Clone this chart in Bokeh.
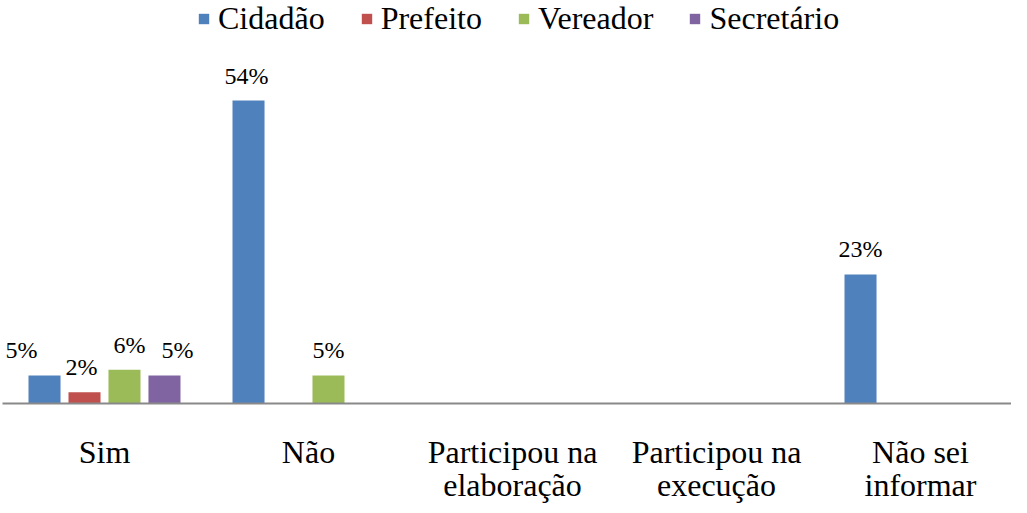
from bokeh.plotting import figure
from bokeh.models import Range1d, ColumnDataSource, Legend, LegendItem, FixedTicker, LabelSet
from bokeh.embed import file_html
from bokeh.resources import INLINE

categories = ["Sim", "Não", "Participou na\nelaboração", "Participou na\nexecução", "Não sei\ninformar"]
series_names = ["Cidadão", "Prefeito", "Vereador", "Secretário"]
cidadao = [5, 54, 0, 0, 23]
prefeito = [2, 0, 0, 0, 0]
vereador = [6, 5, 0, 0, 0]
secretario = [5, 0, 0, 0, 0]
series_values = [cidadao, prefeito, vereador, secretario]
colors = ["#4F81BD", "#C0504D", "#9BBB59", "#8064A2"]
offsets = [-0.294, -0.098, 0.098, 0.294]
bar_width = 0.157
# small horizontal pixel nudges of data labels, per series per category
label_nudge = [[-23, -2, 0, 0, 0], [-3, 0, 0, 0, 0], [5, 0, 0, 0, 0], [13, 0, 0, 0, 0]]

FONT = "Times New Roman"
W, H = 1011, 505
left_border = 2
frame_w = W - left_border
cat_px = 204.0
frame_h = 403
px_per_unit = 5.611

p = figure(width=W, height=H, output_backend="svg", toolbar_location=None,
           x_range=Range1d(0, frame_w / cat_px), y_range=Range1d(0, frame_h / px_per_unit),
           y_axis_location=None, min_border_left=left_border, min_border_right=0,
           min_border_top=0, min_border_bottom=60)
p.outline_line_color = None
p.xgrid.visible = False
p.ygrid.visible = False
p.background_fill_color = "white"

items = []
for k, (name, vals, col) in enumerate(zip(series_names, series_values, colors)):
    xs = [i + 0.5 + offsets[k] for i in range(len(categories))]
    src = ColumnDataSource(dict(x=xs, top=vals))
    r = p.vbar(x="x", top="top", width=bar_width, bottom=0, source=src,
               fill_color=col, line_color=None)
    items.append(LegendItem(label=name, renderers=[r]))
    lx, ly, lt, ln = [], [], [], []
    for i, v in enumerate(vals):
        if v > 0:
            lx.append(xs[i]); ly.append(v); lt.append(f"{v}%"); ln.append(label_nudge[k][i])
    lsrc = ColumnDataSource(dict(x=lx, y=ly, t=lt, n=ln))
    p.add_layout(LabelSet(x="x", y="y", text="t", x_offset="n", y_offset=17, source=lsrc,
                          text_font=FONT, text_font_size="24px",
                          text_align="center", text_baseline="alphabetic",
                          text_color="black"))

legend = Legend(items=items, orientation="horizontal", location=(195, frame_h - 37),
                border_line_color=None, background_fill_alpha=0,
                label_text_font=FONT, label_text_font_size="32px",
                label_text_color="black", glyph_width=13, glyph_height=13,
                label_standoff=8, spacing=35, margin=0, padding=2)
p.add_layout(legend, "center")

xa = p.xaxis[0]
xa.ticker = FixedTicker(ticks=[i + 0.5 for i in range(len(categories))])
xa.major_label_overrides = {i + 0.5: c for i, c in enumerate(categories)}
xa.major_tick_line_color = None
xa.minor_tick_line_color = None
xa.major_tick_out = 0
xa.major_tick_in = 0
xa.axis_line_color = "#898989"
xa.axis_line_width = 2
xa.major_label_standoff = 30
xa.major_label_text_font = FONT
xa.major_label_text_font_size = "32px"
xa.major_label_text_line_height = 0.92
xa.major_label_text_color = "black"

open("out.html", "w").write(file_html(p, INLINE))
